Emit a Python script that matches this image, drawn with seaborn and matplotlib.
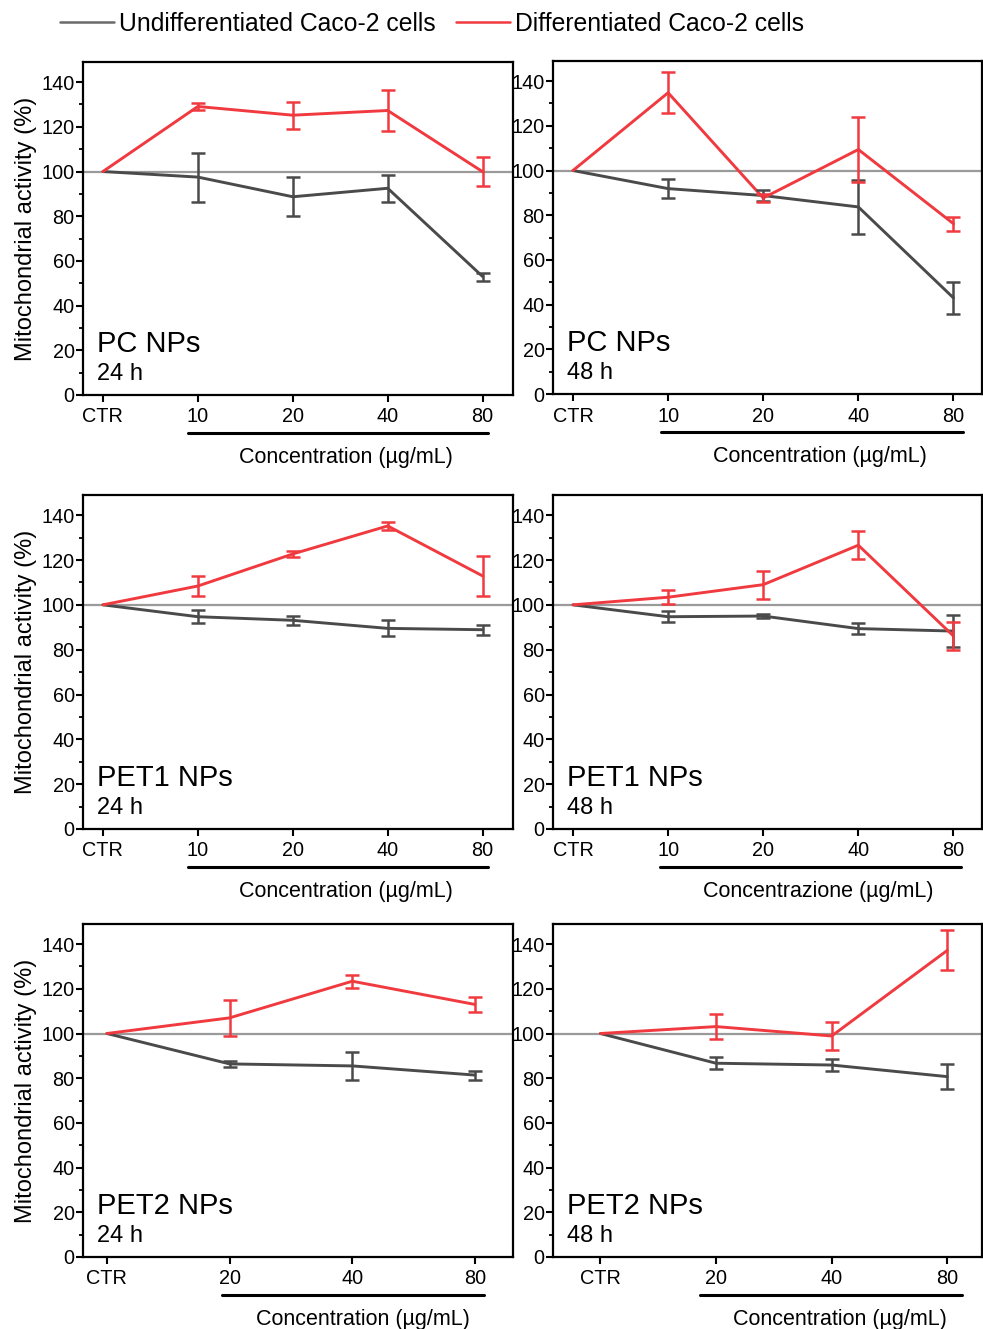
import matplotlib
matplotlib.use('Agg')
import matplotlib.pyplot as plt
import matplotlib.transforms as mtransforms
from matplotlib.lines import Line2D
from matplotlib.ticker import MultipleLocator
import pandas as pd
import seaborn as sns

sns.set_style('ticks')
plt.rcParams['font.family'] = ['Liberation Sans', 'DejaVu Sans']
plt.rcParams['text.color'] = 'black'
plt.rcParams['axes.labelcolor'] = 'black'
plt.rcParams['xtick.color'] = 'black'
plt.rcParams['ytick.color'] = 'black'

# x categories
conc_5 = ['CTR', '10', '20', '40', '80']
conc_4 = ['CTR', '20', '40', '80']

# mean values (%) and SD
pc24_undiff = [100, 97.5, 88.7, 92.5, 53.0]
pc24_undiff_sd = [0, 11.0, 8.8, 6.1, 1.8]
pc24_diff = [100, 129.1, 125.2, 127.3, 99.9]
pc24_diff_sd = [0, 1.6, 6.0, 9.2, 6.4]

pc48_undiff = [100, 91.9, 88.8, 83.7, 43.0]
pc48_undiff_sd = [0, 4.2, 2.5, 12.0, 7.3]
pc48_diff = [100, 134.8, 87.7, 109.4, 76.2]
pc48_diff_sd = [0, 9.1, 1.8, 14.4, 3.2]

pet1_24_undiff = [100, 94.7, 93.1, 89.5, 88.9]
pet1_24_undiff_sd = [0, 2.8, 1.9, 3.6, 2.3]
pet1_24_diff = [100, 108.4, 122.7, 135.2, 112.9]
pet1_24_diff_sd = [0, 4.6, 1.2, 1.9, 8.9]

pet1_48_undiff = [100, 94.7, 95.0, 89.4, 88.3]
pet1_48_undiff_sd = [0, 2.5, 0.8, 2.4, 7.2]
pet1_48_diff = [100, 103.4, 109.0, 126.6, 86.1]
pet1_48_diff_sd = [0, 3.1, 6.3, 6.2, 6.3]

pet2_24_undiff = [100, 86.4, 85.5, 81.4]
pet2_24_undiff_sd = [0, 1.2, 6.2, 2.0]
pet2_24_diff = [100, 107.0, 123.4, 113.0]
pet2_24_diff_sd = [0, 8.0, 2.9, 3.4]

pet2_48_undiff = [100, 86.7, 85.9, 80.7]
pet2_48_undiff_sd = [0, 2.8, 2.6, 5.5]
pet2_48_diff = [100, 103.1, 98.9, 137.2]
pet2_48_diff_sd = [0, 5.5, 6.4, 9.0]

GRAY = '#4a4a4a'
RED = '#f03a3f'

panels = [
    # name, time, labels, undiff, undiff_sd, diff, diff_sd, xlabel
    ('PC NPs', '24 h', conc_5, pc24_undiff, pc24_undiff_sd, pc24_diff, pc24_diff_sd, 'Concentration (µg/mL)'),
    ('PC NPs', '48 h', conc_5, pc48_undiff, pc48_undiff_sd, pc48_diff, pc48_diff_sd, 'Concentration (µg/mL)'),
    ('PET1 NPs', '24 h', conc_5, pet1_24_undiff, pet1_24_undiff_sd, pet1_24_diff, pet1_24_diff_sd, 'Concentration (µg/mL)'),
    ('PET1 NPs', '48 h', conc_5, pet1_48_undiff, pet1_48_undiff_sd, pet1_48_diff, pet1_48_diff_sd, 'Concentrazione (µg/mL)'),
    ('PET2 NPs', '24 h', conc_4, pet2_24_undiff, pet2_24_undiff_sd, pet2_24_diff, pet2_24_diff_sd, 'Concentration (µg/mL)'),
    ('PET2 NPs', '48 h', conc_4, pet2_48_undiff, pet2_48_undiff_sd, pet2_48_diff, pet2_48_diff_sd, 'Concentration (µg/mL)'),
]

# axes placement in figure fractions (left, bottom, width, height)
W, H = 983, 1329
rects = [
    (83 / W, 1 - 395 / H, 430 / W, 333 / H),
    (553 / W, 1 - 394 / H, 429 / W, 333 / H),
    (83 / W, 1 - 829 / H, 430 / W, 334 / H),
    (553 / W, 1 - 829 / H, 429 / W, 334 / H),
    (83 / W, 1 - 1257 / H, 430 / W, 333 / H),
    (553 / W, 1 - 1257 / H, 429 / W, 333 / H),
]
xlims = [(-0.21, 4.32), (-0.21, 4.30), (-0.21, 4.32), (-0.21, 4.30), (-0.195, 3.31), (-0.41, 3.30)]
brackets = [(0.90, 4.06), (0.93, 4.10), (0.90, 4.06), (0.92, 4.08), (0.94, 3.07), (0.86, 3.13)]

fig = plt.figure(figsize=(W / 100, H / 100), dpi=100)

for i, (name, time, labels, und, und_sd, dif, dif_sd, xlab) in enumerate(panels):
    ax = fig.add_axes(rects[i])
    x = list(range(len(labels)))
    df = pd.DataFrame({
        'x': x * 2,
        'value': und + dif,
        'sd': und_sd + dif_sd,
        'cells': ['Undifferentiated'] * len(x) + ['Differentiated'] * len(x),
    })
    ax.axhline(100, color='#9a9a9a', lw=1.6, zorder=1)
    sns.lineplot(data=df, x='x', y='value', hue='cells',
                 palette={'Undifferentiated': GRAY, 'Differentiated': RED},
                 hue_order=['Undifferentiated', 'Differentiated'],
                 lw=2.1, legend=False, ax=ax, zorder=3)
    for cell, col in [('Undifferentiated', GRAY), ('Differentiated', RED)]:
        sub = df[(df['cells'] == cell) & (df['sd'] > 0)]
        ax.errorbar(sub['x'], sub['value'], yerr=sub['sd'], fmt='none',
                    ecolor=col, elinewidth=1.8, capsize=5, capthick=1.8, zorder=4)

    ax.set_xlim(*xlims[i])
    ax.set_ylim(0, 149)
    ax.set_xticks(x)
    ax.set_xticklabels(labels)
    ax.set_yticks(range(0, 141, 20))
    ax.yaxis.set_minor_locator(MultipleLocator(10))
    ax.set_xlabel('')
    ax.set_ylabel('')
    ax.tick_params(axis='both', which='major', direction='out', length=5, width=1.5,
                   labelsize=14.3, colors='black')
    ax.tick_params(axis='y', which='major', pad=1)
    ax.tick_params(axis='x', which='major', pad=4)
    ax.tick_params(axis='y', which='minor', direction='out', length=3, width=1.3)
    for sp in ax.spines.values():
        sp.set_visible(True)
        sp.set_linewidth(1.6)
        sp.set_color('black')
    if i % 2 == 0:
        ax.set_ylabel('Mitochondrial activity (%)', fontsize=17, labelpad=3)

    # bracket line below concentration ticks and its label
    trans = mtransforms.blended_transform_factory(ax.transData, ax.transAxes)
    b0, b1 = brackets[i]
    ax.plot([b0, b1], [-0.114, -0.114], color='black', lw=2.2, transform=trans, clip_on=False)
    ax.text((b0 + b1) / 2 + 0.08, -0.187, xlab, transform=trans, ha='center', va='center',
            fontsize=15.5)

    ax.text(0.033, 0.128, name, transform=ax.transAxes, fontsize=21, ha='left', va='baseline')
    ax.text(0.033, 0.045, time, transform=ax.transAxes, fontsize=17, ha='left', va='baseline')

handles = [Line2D([], [], color='#6a6a6a', lw=1.8), Line2D([], [], color=RED, lw=1.8)]
fig.legend(handles, ['Undifferentiated Caco-2 cells', 'Differentiated Caco-2 cells'],
           loc='center left', bbox_to_anchor=(60 / W, 1 - 24 / H), ncol=2, frameon=False,
           fontsize=17.8, handlelength=2.2, handletextpad=0.2, columnspacing=0.8,
           borderpad=0, borderaxespad=0)

fig.savefig('out.png', dpi=100)
